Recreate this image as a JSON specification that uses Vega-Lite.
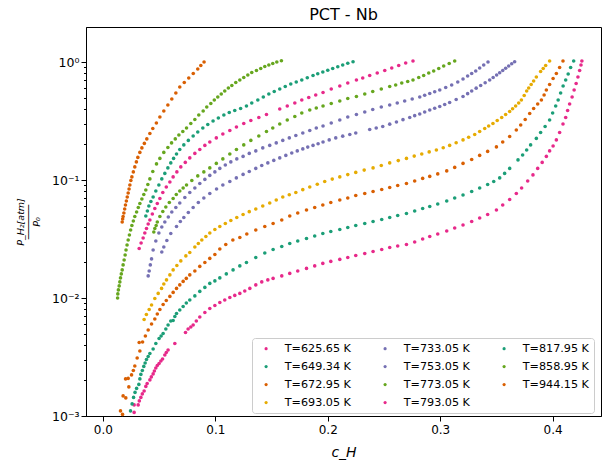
{
"$schema": "https://vega.github.io/schema/vega-lite/v6.json",
"autosize": {"type": "none"},
"width": 515, "height": 389,
"padding": {"left": 86, "top": 27, "right": 2, "bottom": 50},
"background": "white",
"config": {
 "font": "DejaVu Sans",
 "view": {"stroke": "black", "strokeWidth": 1},
 "axis": {"domainColor": "black", "tickColor": "black", "labelColor": "black", "titleColor": "black", "labelFont": "DejaVu Sans", "titleFont": "DejaVu Sans", "labelFontSize": 12, "grid": false, "domainWidth": 1, "tickWidth": 1, "titleFontWeight": "normal"},
 "legend": {"orient": "none", "legendX": 166, "legendY": 311, "columns": 3, "labelFont": "DejaVu Sans", "labelFontSize": 11.2, "labelColor": "black", "symbolType": "circle", "symbolSize": 10, "symbolStrokeWidth": 0, "symbolOpacity": 1, "labelOffset": 13, "symbolOffset": 3.5, "columnPadding": 25, "rowPadding": 6, "padding": 5, "strokeColor": "#cccccc", "fillColor": "white", "cornerRadius": 3}
},
"title": {"text": "PCT - Nb", "fontSize": 16, "fontWeight": "normal", "font": "DejaVu Sans", "color": "black", "offset": 4},
"datasets": {
"T625": [{"c":0.0278,"p":0.001073},{"c":0.0278,"p":0.001242},{"c":0.0314,"p":0.001242},{"c":0.0324,"p":0.001342},{"c":0.0338,"p":0.001437},{"c":0.0351,"p":0.001539},{"c":0.0367,"p":0.001631},{"c":0.0382,"p":0.001781},{"c":0.0394,"p":0.001888},{"c":0.0418,"p":0.002022},{"c":0.0431,"p":0.002144},{"c":0.0447,"p":0.002273},{"c":0.0458,"p":0.002409},{"c":0.0471,"p":0.002555},{"c":0.0484,"p":0.002682},{"c":0.05,"p":0.002789},{"c":0.0516,"p":0.002928},{"c":0.0531,"p":0.003045},{"c":0.0551,"p":0.003292},{"c":0.0564,"p":0.003457},{"c":0.058,"p":0.003629},{"c":0.064,"p":0.004119},{"c":0.0735,"p":0.005105},{"c":0.0758,"p":0.005465},{"c":0.0782,"p":0.005682},{"c":0.0803,"p":0.005908},{"c":0.0831,"p":0.006387},{"c":0.0862,"p":0.006905},{"c":0.0907,"p":0.00754},{"c":0.0951,"p":0.00815},{"c":0.0996,"p":0.00864},{"c":0.104,"p":0.00916},{"c":0.1084,"p":0.009617},{"c":0.1129,"p":0.01011},{"c":0.1173,"p":0.01052},{"c":0.1218,"p":0.01094},{"c":0.1262,"p":0.01148},{"c":0.1307,"p":0.01206},{"c":0.136,"p":0.01291},{"c":0.1413,"p":0.01369},{"c":0.1467,"p":0.01423},{"c":0.1514,"p":0.01466},{"c":0.1591,"p":0.01539},{"c":0.1662,"p":0.01616},{"c":0.1733,"p":0.01696},{"c":0.1811,"p":0.01781},{"c":0.1884,"p":0.0187},{"c":0.1956,"p":0.01964},{"c":0.2027,"p":0.02042},{"c":0.2107,"p":0.02123},{"c":0.2178,"p":0.02207},{"c":0.2249,"p":0.02295},{"c":0.2329,"p":0.02386},{"c":0.2403,"p":0.02481},{"c":0.248,"p":0.0258},{"c":0.2551,"p":0.02682},{"c":0.2622,"p":0.02762},{"c":0.27,"p":0.02844},{"c":0.2773,"p":0.02986},{"c":0.2844,"p":0.03166},{"c":0.2907,"p":0.0332},{"c":0.2978,"p":0.0349},{"c":0.3058,"p":0.037},{"c":0.3129,"p":0.03923},{"c":0.3203,"p":0.04159},{"c":0.328,"p":0.04453},{"c":0.3351,"p":0.04768},{"c":0.3422,"p":0.05105},{"c":0.35,"p":0.05572},{"c":0.3556,"p":0.06143},{"c":0.3618,"p":0.06838},{"c":0.3677,"p":0.07686},{"c":0.3724,"p":0.08556},{"c":0.3778,"p":0.09807},{"c":0.3825,"p":0.1105},{"c":0.3867,"p":0.1254},{"c":0.3907,"p":0.141},{"c":0.3944,"p":0.1585},{"c":0.3973,"p":0.1764},{"c":0.4004,"p":0.1944},{"c":0.4033,"p":0.2186},{"c":0.4062,"p":0.253},{"c":0.4092,"p":0.2986},{"c":0.4116,"p":0.339},{"c":0.4133,"p":0.3885},{"c":0.4151,"p":0.441},{"c":0.4173,"p":0.5055},{"c":0.4191,"p":0.5794},{"c":0.4209,"p":0.6577},{"c":0.4225,"p":0.7465},{"c":0.424,"p":0.8474},{"c":0.4252,"p":0.9432},{"c":0.426,"p":1.0197}],
"T649": [{"c":0.0246,"p":0.001105},{"c":0.026,"p":0.001266},{"c":0.0273,"p":0.001437},{"c":0.0286,"p":0.001585},{"c":0.03,"p":0.001713},{"c":0.032,"p":0.001852},{"c":0.0329,"p":0.002062},{"c":0.0338,"p":0.002251},{"c":0.0351,"p":0.002433},{"c":0.0364,"p":0.002631},{"c":0.0376,"p":0.002816},{"c":0.0388,"p":0.003015},{"c":0.0403,"p":0.003197},{"c":0.0418,"p":0.00339},{"c":0.0447,"p":0.0037},{"c":0.0471,"p":0.004119},{"c":0.05,"p":0.004541},{"c":0.0518,"p":0.004768},{"c":0.0536,"p":0.005006},{"c":0.056,"p":0.005465},{"c":0.058,"p":0.005908},{"c":0.0604,"p":0.006387},{"c":0.0625,"p":0.00645},{"c":0.064,"p":0.006973},{"c":0.0655,"p":0.00739},{"c":0.0684,"p":0.007914},{"c":0.0714,"p":0.008474},{"c":0.0742,"p":0.009071},{"c":0.0773,"p":0.009617},{"c":0.0818,"p":0.01042},{"c":0.0862,"p":0.01137},{"c":0.0907,"p":0.0123},{"c":0.0951,"p":0.01329},{"c":0.0996,"p":0.01396},{"c":0.104,"p":0.0148},{"c":0.1098,"p":0.016},{"c":0.1158,"p":0.0173},{"c":0.1218,"p":0.0187},{"c":0.1277,"p":0.02002},{"c":0.136,"p":0.02207},{"c":0.144,"p":0.02409},{"c":0.1514,"p":0.0258},{"c":0.1591,"p":0.02735},{"c":0.1662,"p":0.029},{"c":0.1733,"p":0.03045},{"c":0.1811,"p":0.03197},{"c":0.1884,"p":0.03357},{"c":0.1956,"p":0.03525},{"c":0.2027,"p":0.03664},{"c":0.2107,"p":0.0381},{"c":0.2178,"p":0.03962},{"c":0.2249,"p":0.04119},{"c":0.2329,"p":0.0428},{"c":0.2403,"p":0.04453},{"c":0.248,"p":0.0463},{"c":0.2551,"p":0.04815},{"c":0.2622,"p":0.05006},{"c":0.27,"p":0.05205},{"c":0.2773,"p":0.05465},{"c":0.2844,"p":0.05738},{"c":0.2907,"p":0.05966},{"c":0.2978,"p":0.06263},{"c":0.3058,"p":0.06641},{"c":0.3129,"p":0.07041},{"c":0.3203,"p":0.07465},{"c":0.328,"p":0.0799},{"c":0.3351,"p":0.08556},{"c":0.3422,"p":0.0916},{"c":0.3476,"p":0.0971},{"c":0.3529,"p":0.1042},{"c":0.3573,"p":0.1137},{"c":0.3618,"p":0.1254},{"c":0.3692,"p":0.148},{"c":0.3733,"p":0.1631},{"c":0.3769,"p":0.1798},{"c":0.3804,"p":0.1983},{"c":0.3855,"p":0.2251},{"c":0.3893,"p":0.253},{"c":0.3933,"p":0.2844},{"c":0.3973,"p":0.3228},{"c":0.4,"p":0.37},{"c":0.4027,"p":0.4241},{"c":0.4049,"p":0.4768},{"c":0.4071,"p":0.5465},{"c":0.4093,"p":0.6263},{"c":0.4116,"p":0.7041},{"c":0.4138,"p":0.7914},{"c":0.416,"p":0.8983},{"c":0.4187,"p":1.0197}],
"T672": [{"c":0.0157,"p":0.001105},{"c":0.0175,"p":0.001032},{"c":0.018,"p":0.00148},{"c":0.0204,"p":0.001423},{"c":0.0202,"p":0.002062},{"c":0.0225,"p":0.002082},{"c":0.0231,"p":0.001764},{"c":0.0255,"p":0.002229},{"c":0.0271,"p":0.002433},{"c":0.0284,"p":0.002656},{"c":0.0305,"p":0.003105},{"c":0.0329,"p":0.003559},{"c":0.0323,"p":0.0042},{"c":0.0353,"p":0.004241},{"c":0.0378,"p":0.004768},{"c":0.0403,"p":0.005359},{"c":0.0433,"p":0.006024},{"c":0.0462,"p":0.006641},{"c":0.0484,"p":0.007321},{"c":0.0507,"p":0.00799},{"c":0.0536,"p":0.00881},{"c":0.0564,"p":0.00952},{"c":0.0596,"p":0.01032},{"c":0.0625,"p":0.01115},{"c":0.0655,"p":0.01206},{"c":0.0684,"p":0.01291},{"c":0.0714,"p":0.01382},{"c":0.0742,"p":0.01466},{"c":0.0773,"p":0.01569},{"c":0.0818,"p":0.01696},{"c":0.0862,"p":0.01852},{"c":0.0907,"p":0.02002},{"c":0.0951,"p":0.02165},{"c":0.0996,"p":0.0234},{"c":0.104,"p":0.02605},{"c":0.1093,"p":0.02844},{"c":0.1156,"p":0.03105},{"c":0.1218,"p":0.0326},{"c":0.128,"p":0.0349},{"c":0.136,"p":0.03773},{"c":0.144,"p":0.0404},{"c":0.1514,"p":0.0428},{"c":0.1591,"p":0.04585},{"c":0.1662,"p":0.04957},{"c":0.1733,"p":0.05256},{"c":0.1811,"p":0.05572},{"c":0.1884,"p":0.0585},{"c":0.1956,"p":0.06143},{"c":0.2027,"p":0.0645},{"c":0.2107,"p":0.06771},{"c":0.2178,"p":0.07041},{"c":0.2249,"p":0.0739},{"c":0.2329,"p":0.07686},{"c":0.2403,"p":0.0799},{"c":0.248,"p":0.0831},{"c":0.2551,"p":0.0864},{"c":0.2622,"p":0.0898},{"c":0.27,"p":0.0934},{"c":0.2773,"p":0.09807},{"c":0.2844,"p":0.1032},{"c":0.2907,"p":0.1073},{"c":0.2978,"p":0.1126},{"c":0.3058,"p":0.1194},{"c":0.3129,"p":0.1279},{"c":0.3203,"p":0.1382},{"c":0.328,"p":0.1494},{"c":0.3351,"p":0.1616},{"c":0.3422,"p":0.1747},{"c":0.35,"p":0.1907},{"c":0.3556,"p":0.2102},{"c":0.3618,"p":0.234},{"c":0.3677,"p":0.2656},{"c":0.3716,"p":0.2928},{"c":0.3756,"p":0.326},{"c":0.3796,"p":0.3664},{"c":0.3831,"p":0.404},{"c":0.3867,"p":0.441},{"c":0.39,"p":0.4768},{"c":0.3924,"p":0.5256},{"c":0.3944,"p":0.5794},{"c":0.3973,"p":0.645},{"c":0.4004,"p":0.725},{"c":0.4033,"p":0.7992},{"c":0.4062,"p":0.8983},{"c":0.4092,"p":1.0197}],
"T693": [{"c":0.0367,"p":0.006577},{"c":0.0387,"p":0.00725},{"c":0.0412,"p":0.00799},{"c":0.0433,"p":0.008724},{"c":0.0462,"p":0.0099},{"c":0.0492,"p":0.01094},{"c":0.0522,"p":0.01206},{"c":0.0542,"p":0.01316},{"c":0.0566,"p":0.01423},{"c":0.0596,"p":0.01569},{"c":0.0625,"p":0.0173},{"c":0.0658,"p":0.01888},{"c":0.0693,"p":0.02062},{"c":0.0738,"p":0.02273},{"c":0.0773,"p":0.02433},{"c":0.0818,"p":0.02709},{"c":0.0849,"p":0.029},{"c":0.088,"p":0.03105},{"c":0.0916,"p":0.0332},{"c":0.0951,"p":0.03559},{"c":0.0996,"p":0.0381},{"c":0.104,"p":0.0404},{"c":0.1089,"p":0.0428},{"c":0.1138,"p":0.0454},{"c":0.1191,"p":0.04815},{"c":0.1247,"p":0.05105},{"c":0.1302,"p":0.0539},{"c":0.136,"p":0.05682},{"c":0.1422,"p":0.06024},{"c":0.1484,"p":0.06387},{"c":0.1542,"p":0.06771},{"c":0.16,"p":0.07179},{"c":0.1658,"p":0.0751},{"c":0.1716,"p":0.07837},{"c":0.1778,"p":0.0828},{"c":0.184,"p":0.08724},{"c":0.1907,"p":0.0921},{"c":0.1973,"p":0.0971},{"c":0.204,"p":0.1018},{"c":0.2107,"p":0.1062},{"c":0.2178,"p":0.1111},{"c":0.2249,"p":0.116},{"c":0.2324,"p":0.1213},{"c":0.2403,"p":0.1266},{"c":0.2476,"p":0.1329},{"c":0.2551,"p":0.1396},{"c":0.2627,"p":0.146},{"c":0.27,"p":0.1524},{"c":0.2769,"p":0.1594},{"c":0.2836,"p":0.1663},{"c":0.2902,"p":0.173},{"c":0.2966,"p":0.1798},{"c":0.3027,"p":0.1877},{"c":0.3084,"p":0.1964},{"c":0.3142,"p":0.207},{"c":0.3203,"p":0.2186},{"c":0.3253,"p":0.2304},{"c":0.3307,"p":0.2433},{"c":0.3351,"p":0.258},{"c":0.3396,"p":0.2735},{"c":0.3431,"p":0.2872},{"c":0.3469,"p":0.3015},{"c":0.3507,"p":0.3197},{"c":0.3547,"p":0.339},{"c":0.3582,"p":0.3594},{"c":0.3618,"p":0.381},{"c":0.3644,"p":0.4016},{"c":0.3671,"p":0.4241},{"c":0.3698,"p":0.4497},{"c":0.3722,"p":0.4768},{"c":0.3747,"p":0.5205},{"c":0.3769,"p":0.5682},{"c":0.3787,"p":0.6024},{"c":0.3809,"p":0.645},{"c":0.3831,"p":0.6905},{"c":0.3855,"p":0.7465},{"c":0.3893,"p":0.831},{"c":0.3916,"p":0.881},{"c":0.3938,"p":0.9341},{"c":0.3973,"p":1.0197}],
"T733": [{"c":0.0524,"p":0.02457},{"c":0.0542,"p":0.02709},{"c":0.0569,"p":0.03075},{"c":0.0604,"p":0.03525},{"c":0.0655,"p":0.0404},{"c":0.0689,"p":0.04453},{"c":0.072,"p":0.04815},{"c":0.076,"p":0.05307},{"c":0.0803,"p":0.0585},{"c":0.0849,"p":0.0645},{"c":0.0898,"p":0.07041},{"c":0.0951,"p":0.07686},{"c":0.1011,"p":0.08391},{"c":0.1067,"p":0.09071},{"c":0.1129,"p":0.0971},{"c":0.1187,"p":0.1042},{"c":0.1247,"p":0.1115},{"c":0.1302,"p":0.1182},{"c":0.136,"p":0.1254},{"c":0.1413,"p":0.1329},{"c":0.1467,"p":0.1396},{"c":0.152,"p":0.1466},{"c":0.1573,"p":0.1539},{"c":0.1627,"p":0.1616},{"c":0.168,"p":0.1696},{"c":0.1729,"p":0.1764},{"c":0.1778,"p":0.1834},{"c":0.1822,"p":0.19},{"c":0.1869,"p":0.1964},{"c":0.1914,"p":0.203},{"c":0.1958,"p":0.2102},{"c":0.2013,"p":0.2186},{"c":0.2071,"p":0.2273},{"c":0.2133,"p":0.2354},{"c":0.2196,"p":0.2433},{"c":0.2249,"p":0.2505},{"c":0.2373,"p":0.2682},{"c":0.2431,"p":0.2762},{"c":0.2489,"p":0.2844},{"c":0.2551,"p":0.2974},{"c":0.2611,"p":0.3105},{"c":0.2669,"p":0.3247},{"c":0.2729,"p":0.339},{"c":0.2773,"p":0.3511},{"c":0.2818,"p":0.3629},{"c":0.2862,"p":0.3773},{"c":0.2907,"p":0.3923},{"c":0.2951,"p":0.4055},{"c":0.2996,"p":0.42},{"c":0.304,"p":0.4368},{"c":0.3084,"p":0.4541},{"c":0.3142,"p":0.4815},{"c":0.3203,"p":0.5105},{"c":0.3244,"p":0.5391},{"c":0.328,"p":0.5682},{"c":0.332,"p":0.6001},{"c":0.336,"p":0.6325},{"c":0.34,"p":0.668},{"c":0.344,"p":0.7041},{"c":0.3471,"p":0.7393},{"c":0.3502,"p":0.7761},{"c":0.3529,"p":0.8118},{"c":0.3556,"p":0.8474},{"c":0.3582,"p":0.8862},{"c":0.3609,"p":0.925},{"c":0.3636,"p":0.9656},{"c":0.3662,"p":1.006}],
"T753": [{"c":0.0403,"p":0.01539},{"c":0.0412,"p":0.01696},{"c":0.0422,"p":0.01907},{"c":0.0433,"p":0.02144},{"c":0.0447,"p":0.02555},{"c":0.0471,"p":0.03045},{"c":0.0498,"p":0.03559},{"c":0.0524,"p":0.04},{"c":0.0551,"p":0.0441},{"c":0.0582,"p":0.04862},{"c":0.0613,"p":0.05359},{"c":0.0649,"p":0.0585},{"c":0.0684,"p":0.06387},{"c":0.0729,"p":0.0711},{"c":0.0773,"p":0.07837},{"c":0.0818,"p":0.08556},{"c":0.0862,"p":0.0934},{"c":0.0907,"p":0.1012},{"c":0.0951,"p":0.1094},{"c":0.0996,"p":0.1171},{"c":0.104,"p":0.1254},{"c":0.1089,"p":0.1342},{"c":0.1138,"p":0.1423},{"c":0.1191,"p":0.1509},{"c":0.1247,"p":0.1585},{"c":0.1302,"p":0.168},{"c":0.136,"p":0.1764},{"c":0.1422,"p":0.187},{"c":0.1484,"p":0.1964},{"c":0.1542,"p":0.2062},{"c":0.16,"p":0.2165},{"c":0.1658,"p":0.2273},{"c":0.1716,"p":0.2386},{"c":0.1778,"p":0.2505},{"c":0.184,"p":0.2631},{"c":0.1898,"p":0.2762},{"c":0.1958,"p":0.2872},{"c":0.2031,"p":0.3045},{"c":0.2107,"p":0.3228},{"c":0.2178,"p":0.3423},{"c":0.2255,"p":0.3594},{"c":0.2329,"p":0.3773},{"c":0.24,"p":0.3962},{"c":0.2476,"p":0.4159},{"c":0.2551,"p":0.4325},{"c":0.2618,"p":0.4497},{"c":0.2684,"p":0.4676},{"c":0.2751,"p":0.4862},{"c":0.2818,"p":0.5055},{"c":0.2862,"p":0.5225},{"c":0.2907,"p":0.5412},{"c":0.2951,"p":0.5594},{"c":0.2996,"p":0.5794},{"c":0.3049,"p":0.6083},{"c":0.3102,"p":0.6387},{"c":0.3156,"p":0.6771},{"c":0.3203,"p":0.7179},{"c":0.3244,"p":0.7612},{"c":0.328,"p":0.7992},{"c":0.3316,"p":0.8391},{"c":0.3351,"p":0.8896},{"c":0.3387,"p":0.9432},{"c":0.3425,"p":1.0}],
"T773": [{"c":0.0453,"p":0.03629},{"c":0.0462,"p":0.03885},{"c":0.0474,"p":0.04119},{"c":0.0484,"p":0.0441},{"c":0.0507,"p":0.0491},{"c":0.0533,"p":0.05412},{"c":0.056,"p":0.05908},{"c":0.0591,"p":0.0645},{"c":0.0625,"p":0.06973},{"c":0.0653,"p":0.0754},{"c":0.0684,"p":0.0807},{"c":0.0714,"p":0.08556},{"c":0.0744,"p":0.09071},{"c":0.0791,"p":0.099},{"c":0.0844,"p":0.1083},{"c":0.0898,"p":0.1171},{"c":0.0951,"p":0.1266},{"c":0.1009,"p":0.1382},{"c":0.1067,"p":0.1509},{"c":0.1129,"p":0.1663},{"c":0.1188,"p":0.1816},{"c":0.1253,"p":0.1983},{"c":0.1316,"p":0.2165},{"c":0.1387,"p":0.2363},{"c":0.1455,"p":0.258},{"c":0.1511,"p":0.2762},{"c":0.1573,"p":0.2986},{"c":0.164,"p":0.3228},{"c":0.1707,"p":0.3457},{"c":0.1769,"p":0.37},{"c":0.184,"p":0.3923},{"c":0.1898,"p":0.4079},{"c":0.1958,"p":0.4241},{"c":0.2031,"p":0.4453},{"c":0.2107,"p":0.4676},{"c":0.2178,"p":0.491},{"c":0.2255,"p":0.5105},{"c":0.2329,"p":0.5359},{"c":0.24,"p":0.5627},{"c":0.2476,"p":0.5908},{"c":0.2551,"p":0.6203},{"c":0.2604,"p":0.6387},{"c":0.2658,"p":0.6641},{"c":0.2711,"p":0.6838},{"c":0.2758,"p":0.7041},{"c":0.2809,"p":0.7393},{"c":0.2853,"p":0.7686},{"c":0.2898,"p":0.807},{"c":0.2942,"p":0.8391},{"c":0.2987,"p":0.881},{"c":0.3031,"p":0.925},{"c":0.308,"p":0.9712},{"c":0.3129,"p":1.0197}],
"T793": [{"c":0.0323,"p":0.02631},{"c":0.034,"p":0.02928},{"c":0.0358,"p":0.03228},{"c":0.0373,"p":0.03559},{"c":0.0388,"p":0.03885},{"c":0.0403,"p":0.04241},{"c":0.0418,"p":0.04585},{"c":0.044,"p":0.05154},{"c":0.0462,"p":0.05738},{"c":0.0484,"p":0.06325},{"c":0.0507,"p":0.06973},{"c":0.0533,"p":0.07837},{"c":0.0564,"p":0.08724},{"c":0.0596,"p":0.09617},{"c":0.0625,"p":0.1062},{"c":0.0658,"p":0.1171},{"c":0.0693,"p":0.1291},{"c":0.0733,"p":0.141},{"c":0.0773,"p":0.1539},{"c":0.0818,"p":0.168},{"c":0.0862,"p":0.1816},{"c":0.0907,"p":0.1964},{"c":0.0951,"p":0.2102},{"c":0.1009,"p":0.2273},{"c":0.1067,"p":0.2457},{"c":0.1129,"p":0.2631},{"c":0.1188,"p":0.2816},{"c":0.1253,"p":0.3015},{"c":0.1316,"p":0.3197},{"c":0.1387,"p":0.339},{"c":0.1455,"p":0.3594},{"c":0.1573,"p":0.4},{"c":0.164,"p":0.4241},{"c":0.1707,"p":0.4497},{"c":0.1769,"p":0.4768},{"c":0.1831,"p":0.5006},{"c":0.1893,"p":0.5256},{"c":0.1958,"p":0.5518},{"c":0.2031,"p":0.5908},{"c":0.2107,"p":0.6263},{"c":0.2178,"p":0.6641},{"c":0.2255,"p":0.7041},{"c":0.2311,"p":0.7321},{"c":0.2373,"p":0.7686},{"c":0.244,"p":0.807},{"c":0.2507,"p":0.8474},{"c":0.2569,"p":0.8896},{"c":0.2631,"p":0.9341},{"c":0.2693,"p":0.9807},{"c":0.2758,"p":1.0197}],
"T817": [{"c":0.0382,"p":0.04957},{"c":0.0396,"p":0.05465},{"c":0.0409,"p":0.06024},{"c":0.0427,"p":0.0658},{"c":0.0447,"p":0.07179},{"c":0.0471,"p":0.0807},{"c":0.0498,"p":0.09071},{"c":0.0524,"p":0.1022},{"c":0.0551,"p":0.1137},{"c":0.0578,"p":0.1266},{"c":0.0604,"p":0.1396},{"c":0.0629,"p":0.1524},{"c":0.0655,"p":0.1663},{"c":0.0684,"p":0.1816},{"c":0.072,"p":0.1983},{"c":0.076,"p":0.2165},{"c":0.0803,"p":0.2363},{"c":0.0844,"p":0.2555},{"c":0.0889,"p":0.2762},{"c":0.0933,"p":0.2957},{"c":0.098,"p":0.3166},{"c":0.1027,"p":0.3357},{"c":0.1076,"p":0.3559},{"c":0.1124,"p":0.3737},{"c":0.1173,"p":0.3885},{"c":0.1225,"p":0.404},{"c":0.1277,"p":0.4241},{"c":0.1324,"p":0.4497},{"c":0.1378,"p":0.4768},{"c":0.1427,"p":0.5055},{"c":0.1476,"p":0.5359},{"c":0.1524,"p":0.5627},{"c":0.1573,"p":0.5908},{"c":0.1622,"p":0.6203},{"c":0.1671,"p":0.6513},{"c":0.172,"p":0.6771},{"c":0.1769,"p":0.7041},{"c":0.1818,"p":0.735},{"c":0.1869,"p":0.7686},{"c":0.1911,"p":0.7945},{"c":0.1956,"p":0.8229},{"c":0.2,"p":0.8522},{"c":0.2044,"p":0.881},{"c":0.2089,"p":0.9125},{"c":0.2133,"p":0.9432},{"c":0.2178,"p":0.975},{"c":0.2225,"p":1.006}],
"T858": [{"c":0.0131,"p":0.01},{"c":0.0133,"p":0.01083},{"c":0.0138,"p":0.01171},{"c":0.0145,"p":0.01266},{"c":0.0151,"p":0.01369},{"c":0.0157,"p":0.0148},{"c":0.0164,"p":0.016},{"c":0.0172,"p":0.0173},{"c":0.018,"p":0.01907},{"c":0.0189,"p":0.02102},{"c":0.0198,"p":0.02317},{"c":0.0206,"p":0.02555},{"c":0.0215,"p":0.02816},{"c":0.0225,"p":0.03105},{"c":0.0236,"p":0.03423},{"c":0.0247,"p":0.03773},{"c":0.0258,"p":0.04119},{"c":0.0271,"p":0.04497},{"c":0.0284,"p":0.0491},{"c":0.03,"p":0.05359},{"c":0.0315,"p":0.0585},{"c":0.0329,"p":0.0632},{"c":0.0347,"p":0.06905},{"c":0.0364,"p":0.0754},{"c":0.0382,"p":0.08229},{"c":0.04,"p":0.0916},{"c":0.0418,"p":0.1022},{"c":0.0444,"p":0.1182},{"c":0.0477,"p":0.1369},{"c":0.0507,"p":0.1524},{"c":0.0542,"p":0.1713},{"c":0.0578,"p":0.1888},{"c":0.0611,"p":0.2062},{"c":0.0644,"p":0.2229},{"c":0.0676,"p":0.2409},{"c":0.0711,"p":0.258},{"c":0.0744,"p":0.2762},{"c":0.0782,"p":0.3015},{"c":0.0818,"p":0.326},{"c":0.0853,"p":0.3559},{"c":0.0892,"p":0.3847},{"c":0.0924,"p":0.4159},{"c":0.096,"p":0.4453},{"c":0.0991,"p":0.4768},{"c":0.1022,"p":0.5055},{"c":0.1053,"p":0.5359},{"c":0.1084,"p":0.5682},{"c":0.1116,"p":0.6024},{"c":0.1147,"p":0.6325},{"c":0.1182,"p":0.6706},{"c":0.1218,"p":0.7041},{"c":0.1253,"p":0.7393},{"c":0.1289,"p":0.7761},{"c":0.1324,"p":0.815},{"c":0.1366,"p":0.8474},{"c":0.1404,"p":0.881},{"c":0.144,"p":0.9161},{"c":0.1476,"p":0.9432},{"c":0.1511,"p":0.9712},{"c":0.1547,"p":1.0},{"c":0.1588,"p":1.026}],
"T944": [{"c":0.0172,"p":0.0441},{"c":0.0176,"p":0.04676},{"c":0.018,"p":0.0491},{"c":0.0187,"p":0.05256},{"c":0.0194,"p":0.05682},{"c":0.0201,"p":0.06143},{"c":0.0209,"p":0.06641},{"c":0.0217,"p":0.07179},{"c":0.0225,"p":0.07761},{"c":0.0233,"p":0.08391},{"c":0.024,"p":0.09071},{"c":0.0249,"p":0.099},{"c":0.0258,"p":0.1062},{"c":0.0271,"p":0.1171},{"c":0.0284,"p":0.1291},{"c":0.0298,"p":0.1423},{"c":0.0311,"p":0.1554},{"c":0.0329,"p":0.1713},{"c":0.0347,"p":0.187},{"c":0.0369,"p":0.2042},{"c":0.0391,"p":0.2229},{"c":0.0418,"p":0.2481},{"c":0.0444,"p":0.2735},{"c":0.0476,"p":0.3045},{"c":0.0507,"p":0.3423},{"c":0.0542,"p":0.3847},{"c":0.0578,"p":0.4325},{"c":0.0613,"p":0.4862},{"c":0.0649,"p":0.5465},{"c":0.0684,"p":0.6143},{"c":0.0724,"p":0.6706},{"c":0.0764,"p":0.7321},{"c":0.0804,"p":0.7992},{"c":0.0844,"p":0.8724},{"c":0.0871,"p":0.9341},{"c":0.09,"p":1.0}]
},
"encoding": {
 "x": {"field": "c", "type": "quantitative", "scale": {"domain": [-0.015, 0.443], "nice": false, "zero": false},
  "axis": {"values": [0, 0.1, 0.2, 0.3, 0.4], "format": ".1f", "title": "c_H", "titleFontStyle": "italic", "titleFontSize": 14, "tickSize": 5, "labelPadding": 3, "titlePadding": 10}},
 "y": {"field": "p", "type": "quantitative", "scale": {"type": "log", "domain": [0.001, 1.98], "nice": false},
  "axis": {"values": [0.001,0.002,0.003,0.004,0.005,0.006,0.007,0.008,0.009,0.01,0.02,0.03,0.04,0.05,0.06,0.07,0.08,0.09,0.1,0.2,0.3,0.4,0.5,0.6,0.7,0.8,0.9,1],
   "labelExpr": "datum.value == 1 ? '10⁰' : datum.value == 0.1 ? '10⁻¹' : datum.value == 0.01 ? '10⁻²' : datum.value == 0.001 ? '10⁻³' : ''",
   "labelFontSize": 12.5,
   "tickSize": {"condition": {"test": "abs(log(datum.value)/LN10 - round(log(datum.value)/LN10)) < 0.01", "value": 5}, "value": 2.5},
   "labelPadding": 2,
   "title": ["P_H₂[atm]", "──────", "P₀"], "titleFontSize": 9.5, "titleFontStyle": "italic", "titleLineHeight": 8, "titlePadding": 10}}
},
"layer": [
 {"data": {"name": "T625"}, "mark": {"type": "circle", "size": 13, "opacity": 1}, "encoding": {"color": {"datum": "T=625.65 K", "scale": {"domain": ["T=625.65 K","T=649.34 K","T=672.95 K","T=693.05 K","T=733.05 K","T=753.05 K","T=773.05 K","T=793.05 K","T=817.95 K","T=858.95 K","T=944.15 K"], "range": ["#e7298a","#1b9e77","#d95f02","#e6ab02","#7570b3","#7570b3","#66a61e","#e7298a","#1b9e77","#66a61e","#d95f02"]}, "legend": {"title": null}}}},
 {"data": {"name": "T649"}, "mark": {"type": "circle", "size": 13, "opacity": 1}, "encoding": {"color": {"datum": "T=649.34 K"}}},
 {"data": {"name": "T672"}, "mark": {"type": "circle", "size": 13, "opacity": 1}, "encoding": {"color": {"datum": "T=672.95 K"}}},
 {"data": {"name": "T693"}, "mark": {"type": "circle", "size": 13, "opacity": 1}, "encoding": {"color": {"datum": "T=693.05 K"}}},
 {"data": {"name": "T733"}, "mark": {"type": "circle", "size": 13, "opacity": 1}, "encoding": {"color": {"datum": "T=733.05 K"}}},
 {"data": {"name": "T753"}, "mark": {"type": "circle", "size": 13, "opacity": 1}, "encoding": {"color": {"datum": "T=753.05 K"}}},
 {"data": {"name": "T773"}, "mark": {"type": "circle", "size": 13, "opacity": 1}, "encoding": {"color": {"datum": "T=773.05 K"}}},
 {"data": {"name": "T793"}, "mark": {"type": "circle", "size": 13, "opacity": 1}, "encoding": {"color": {"datum": "T=793.05 K"}}},
 {"data": {"name": "T817"}, "mark": {"type": "circle", "size": 13, "opacity": 1}, "encoding": {"color": {"datum": "T=817.95 K"}}},
 {"data": {"name": "T858"}, "mark": {"type": "circle", "size": 13, "opacity": 1}, "encoding": {"color": {"datum": "T=858.95 K"}}},
 {"data": {"name": "T944"}, "mark": {"type": "circle", "size": 13, "opacity": 1}, "encoding": {"color": {"datum": "T=944.15 K"}}}
]
}
